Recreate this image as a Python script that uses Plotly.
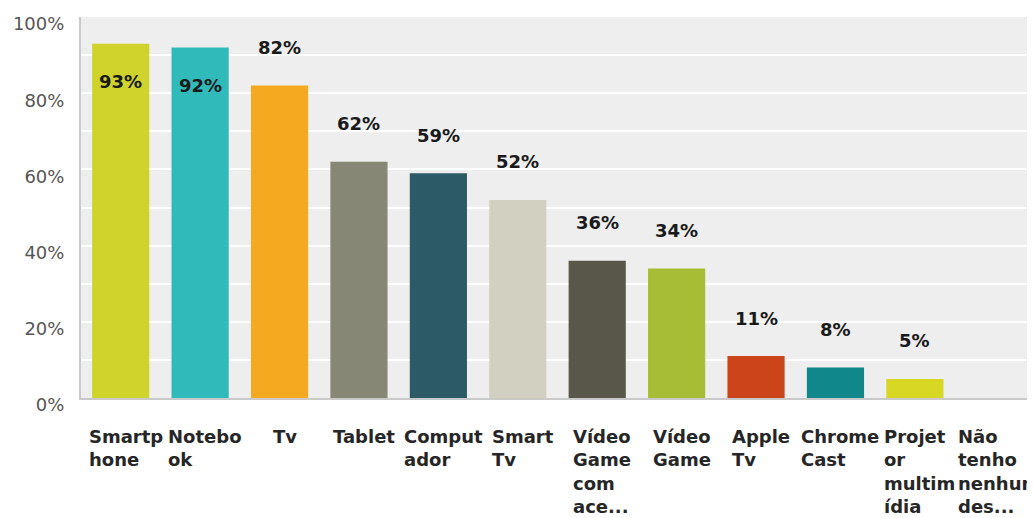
import plotly.graph_objects as go

categories = ["Smartp<br>hone", "Notebo<br>ok", "Tv", "Tablet", "Comput<br>ador", "Smart<br>Tv",
              "Vídeo<br>Game<br>com<br>ace...", "Vídeo<br>Game", "Apple<br>Tv", "Chrome<br>Cast",
              "Projet<br>or<br>multim<br>ídia", "Não<br>tenho<br>nenhum<br>des..."]
values = [93, 92, 82, 62, 59, 52, 36, 34, 11, 8, 5, 0]
colors = ["#cfd32b", "#30bbba", "#f5a921", "#878776", "#2c5a66", "#d2d0c1",
          "#58574a", "#a8bd36", "#cc4419", "#10878b", "#d8d824", "#eeeeee"]
ytick_vals = [0, 20, 40, 60, 80, 100]
ytick_text = ["0%", "20%", "40%", "60%", "80%", "100%"]

x = list(range(len(categories)))

fig = go.Figure()
fig.add_trace(go.Bar(x=x, y=values, marker=dict(color=colors, line=dict(width=0)),
                     width=0.72, hoverinfo="skip"))

annotations = []
for xi, v in zip(x, values):
    if v <= 0:
        continue
    inside = v > 90
    annotations.append(dict(
        x=xi, y=v, xref="x", yref="y", text=f"{v}%", showarrow=False,
        yanchor="middle", yshift=-38 if inside else 38,
        font=dict(family="DejaVu Sans", size=18, color="#1a1a1a", weight="bold")))

# category labels: left-aligned multi-line blocks under each bar
for xi, lab in zip(x, categories):
    annotations.append(dict(
        x=xi, y=0, xref="x", yref="paper", text=lab, showarrow=False,
        xanchor="center", yanchor="top", align="left", xshift=5, yshift=-26,
        font=dict(family="DejaVu Sans", size=18, color="#262626", weight="bold")))

# page body has an 8px default margin, so the figure is sized/offset to compensate
fig.update_layout(
    width=1027, height=510,
    margin=dict(l=73, r=1, t=9, b=120),
    paper_bgcolor="white", plot_bgcolor="#eeeeee",
    showlegend=False, bargap=0.28,
    annotations=annotations,
    xaxis=dict(tickmode="array", tickvals=x, ticktext=categories, range=[-0.5, len(x) - 0.5],
               automargin=False, showticklabels=False,
               showgrid=False, zeroline=False, showline=True, linecolor="#c9c9c9", linewidth=2,
               ticks=""),
    yaxis=dict(range=[0, 100], tickmode="array", tickvals=ytick_vals, ticktext=ytick_text,
               automargin=False,
               showgrid=True, gridcolor="white", gridwidth=2,
               minor=dict(dtick=10, showgrid=True, gridcolor="white", gridwidth=2),
               zeroline=False, showline=True, linecolor="#c9c9c9", linewidth=2, ticks="",
               tickfont=dict(family="DejaVu Sans", size=18, color="#555555"),
               ticklabelstandoff=11, ticklabelshift=7),
)

fig.write_html("out.html")
